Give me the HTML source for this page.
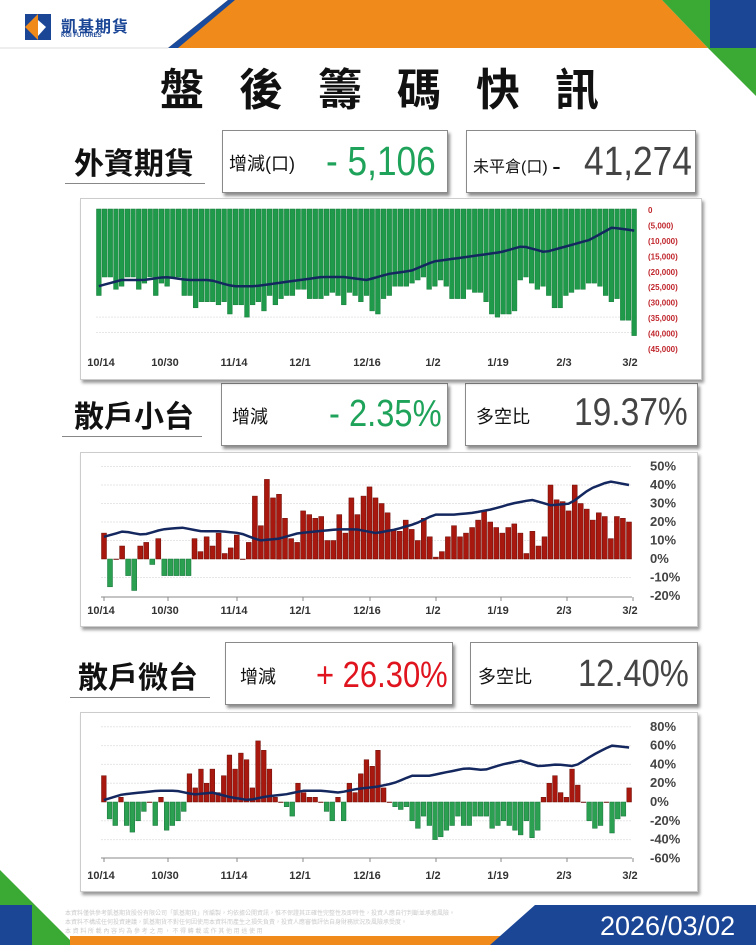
<!DOCTYPE html>
<html><head><meta charset="utf-8">
<style>
body{margin:0;width:756px;height:945px;position:relative;overflow:hidden;background:#fff;font-family:"Liberation Sans","Noto Sans CJK TC",sans-serif}
.a{position:absolute}
.box{position:absolute;background:#fff;border:1px solid #8a8a8a;box-shadow:2px 3px 3px rgba(0,0,0,.45)}
.lbl{position:absolute;font-size:30px;font-weight:bold;color:#111;font-family:"Noto Sans CJK TC",sans-serif}
.ul{position:absolute;height:1px;background:#888}
.bt{position:absolute;font-size:18px;color:#111;font-family:"Liberation Sans","Noto Sans CJK TC",sans-serif}
.bv{position:absolute;font-size:41px;font-family:"Liberation Sans",sans-serif;transform:scaleX(0.86);transform-origin:0 0;white-space:nowrap;line-height:46px}
.panel{position:absolute;background:#fff;border:1px solid #ccc;box-shadow:2px 3px 3px rgba(0,0,0,.4)}
</style></head><body>
<svg class="a" style="left:0;top:0" width="756" height="945">
<polygon points="168,48 228,0 662,0 708,48" fill="#f08a1a"/>
<polygon points="168,48 228,0 235,0 178,48" fill="#1a4b9c"/>
<polygon points="662,0 710,0 710,48 708,48" fill="#3aaa35"/>
<rect x="710" y="0" width="46" height="48" fill="#1b4696"/>
<polygon points="708,48 756,48 756,96" fill="#3aaa35"/>
<line x1="0" y1="48" x2="168" y2="48" stroke="#ddd"/>
<rect x="25" y="14" width="26" height="26" fill="#1b4696"/>
<polygon points="25,27 38,14 38,40" fill="#f08a1a"/>
<polygon points="38,20 46,27 38,36" fill="#fff"/>
<polygon points="0,870 75,945 0,945" fill="#3aaa35"/>
<rect x="0" y="905" width="32" height="40" fill="#1b4696"/>
<rect x="70" y="936" width="430" height="9" fill="#f08a1a"/>
<polygon points="490,945 535,905 756,905 756,945" fill="#1b4696"/>
<text x="600" y="935" fill="#fff" font-size="27" font-family="Liberation Sans">2026/03/02</text>
<g fill="#ccc" font-size="6">
<text x="65" y="915">本資料僅供參考凱基期貨股份有限公司「凱基期貨」所編製，均依據公開資訊，惟不保證其正確性完整性及即時性，投資人應自行判斷並承擔風險。</text>
<text x="65" y="924">本資料不構成任何投資建議，凱基期貨不對任何因使用本資料而產生之損失負責，投資人應審慎評估自身財務狀況及風險承受度。</text>
<text x="65" y="933">本 資 料 所 載 內 容 均 為 參 考 之 用 ， 不 得 轉 載 或 作 其 他 用 途 使 用</text>
</g>
</svg>
<div class="a" style="left:61px;top:13px;font-size:16px;color:#1b4696;font-weight:bold;font-family:'Noto Sans CJK TC',sans-serif;letter-spacing:1px">凱基期貨</div>
<div class="a" style="left:61px;top:33px;font-size:6px;color:#1b4696;font-weight:bold">KGI FUTURES</div>
<div class="a" style="left:160px;top:58px;font-size:44px;font-weight:bold;letter-spacing:35px;color:#111;font-family:'Noto Sans CJK TC',sans-serif;line-height:56px">盤後籌碼快訊</div>

<div class="lbl" style="left:74px;top:139px">外資期貨</div><div class="ul" style="left:65px;top:183px;width:140px"></div>
<div class="box" style="left:222px;top:130px;width:224px;height:61px"></div>
<div class="bt" style="left:229px;top:150px">增減(口)</div>
<div class="bv" style="left:326px;top:138px;color:#1fa35a">- 5,106</div>
<div class="box" style="left:466px;top:130px;width:228px;height:61px"></div>
<div class="bt" style="left:473px;top:151px;font-size:16px">未平倉(口) <span style="font-size:26px;vertical-align:-3px">-</span></div>
<div class="bv" style="left:584px;top:138px;color:#444">41,274</div>

<div class="lbl" style="left:74px;top:392px">散戶小台</div><div class="ul" style="left:62px;top:436px;width:140px"></div>
<div class="box" style="left:221px;top:383px;width:225px;height:61px"></div>
<div class="bt" style="left:232px;top:403px">增減</div>
<div class="bv" style="left:329px;top:391px;color:#1fa35a;font-size:38px">- 2.35%</div>
<div class="box" style="left:465px;top:383px;width:231px;height:61px"></div>
<div class="bt" style="left:476px;top:403px">多空比</div>
<div class="bv" style="left:574px;top:390px;color:#444;font-size:39px">19.37%</div>

<div class="lbl" style="left:78px;top:653px">散戶微台</div><div class="ul" style="left:70px;top:697px;width:140px"></div>
<div class="box" style="left:225px;top:642px;width:226px;height:61px"></div>
<div class="bt" style="left:240px;top:663px">增減</div>
<div class="bv" style="left:316px;top:652px;color:#e0141e;font-size:36px">+ 26.30%</div>
<div class="box" style="left:470px;top:642px;width:226px;height:61px"></div>
<div class="bt" style="left:478px;top:663px">多空比</div>
<div class="bv" style="left:578px;top:651px;color:#444;font-size:38px">12.40%</div>

<div class="panel" style="left:80px;top:198px;width:620px;height:180px"></div>
<div class="panel" style="left:80px;top:452px;width:616px;height:173px"></div>
<div class="panel" style="left:80px;top:712px;width:616px;height:178px"></div>
<svg id="c" class="a" style="left:0;top:0" width="756" height="945"></svg>
<script>
var S='';
var xs=[101,165,234,300,367,433,498,564,630];
var labs=['10/14','10/30','11/14','12/1','12/16','1/2','1/19','2/3','3/2'];
function interp(kp,n){var r=[];for(var i=0;i<n;i++){var t=i/(n-1)*(kp.length-1);var k=Math.floor(t);if(k>=kp.length-1){r.push(kp[kp.length-1]);continue;}var f=t-k;r.push(kp[k]*(1-f)+kp[k+1]*f);}return r;}
function chart(o){
 var n=o.v.length,x0=o.x0,x1=o.x1,w=(x1-x0)/n;
 o.grid.forEach(function(g){S+='<line x1="'+x0+'" x2="'+x1+'" y1="'+o.y(g)+'" y2="'+o.y(g)+'" stroke="#e6e6e6" stroke-dasharray="2,1"/>';});
 var z=o.y(0);
 o.v.forEach(function(v,i){var y=o.y(v);var top=Math.min(y,z),h=Math.abs(y-z);S+='<rect x="'+(x0+i*w+0.5).toFixed(1)+'" y="'+top.toFixed(1)+'" width="'+(w-1).toFixed(1)+'" height="'+Math.max(h,0.5).toFixed(1)+'" fill="'+o.col(v)+'" stroke="'+o.sk(v)+'" stroke-width="0.5"/>';});
 var L=interp(o.line,n),p='';
 L.forEach(function(v,i){p+=(i?'L':'M')+(x0+i*w+w/2).toFixed(1)+','+o.y(v).toFixed(1);});
 S+='<path d="'+p+'" fill="none" stroke="#14285f" stroke-width="2.5"/>';
 o.yl.forEach(function(t){S+='<text x="'+o.lx+'" y="'+(o.y(t[0])+4)+'" font-size="'+o.fs+'" fill="'+o.lc+'" font-weight="bold" font-family="Liberation Sans">'+t[1]+'</text>';});
 if(o.ax){S+='<line x1="'+x0+'" x2="'+x1+'" y1="'+o.ax+'" y2="'+o.ax+'" stroke="#888"/>';xs.forEach(function(x){S+='<line x1="'+(x+3)+'" x2="'+(x+3)+'" y1="'+o.ax+'" y2="'+(o.ax+4)+'" stroke="#888"/>';});}
 xs.forEach(function(x,i){S+='<text x="'+x+'" y="'+o.ty+'" font-size="11" fill="#333" text-anchor="middle" font-weight="bold" font-family="Liberation Sans">'+labs[i]+'</text>';});
}
var v1=[28,22,22,26,25,22,22,26,24,22,28,24,25,22,22,28,28,32,30,30,30,31,30,34,31,31,35,31,30,33,28,31,29,28,28,26,26,29,29,29,28,27,28,31,27,28,30,28,33,34,29,28,25,25,25,24,23,22,26,25,23,25,29,29,29,26,27,27,30,34,35,34,34,33,23,22,24,26,25,28,32,32,28,27,26,26,24,24,25,28,30,29,36,36,41];
chart({v:v1.map(function(a){return -a}),x0:96,x1:637,y:function(v){return 209-v*139/45},
 grid:[-35,-40],col:function(){return '#1f9a4a'},sk:function(){return '#157a38'},
 line:[-25,-23,-23,-22,-23,-23,-25,-25,-24,-23,-22,-22,-23,-21,-20,-17,-16,-15,-14,-12,-14,-12,-10,-6,-7],
 yl:[[0,'0'],[-5,'(5,000)'],[-10,'(10,000)'],[-15,'(15,000)'],[-20,'(20,000)'],[-25,'(25,000)'],[-30,'(30,000)'],[-35,'(35,000)'],[-40,'(40,000)'],[-45,'(45,000)']],
 lx:648,fs:8,lc:'#c0262c',ty:366,ax:0});
var v2=[14,-15,0,7,-9,-17,7,9,-3,11,-9,-9,-9,-9,-9,11,4,12,7,14,3,6,13,0,9,34,18,43,33,35,22,11,9,26,24,22,23,10,10,24,14,33,24,34,39,33,30,25,16,15,21,16,10,22,12,1,4,12,18,12,14,17,21,26,20,17,14,17,19,14,3,15,7,12,40,32,31,26,40,30,27,21,25,23,11,23,22,20];
chart({v:v2,x0:101,x1:632,y:function(v){return 559-v*1.85},grid:[50,40,30,20,10,-10],
 col:function(v){return v>=0?'#a8180f':'#2aa050'},sk:function(v){return v>=0?'#6b0c06':'#17703a'},
 line:[12,15,13,16,17,15,15,14,10,11,14,15,16,16,14,16,19,24,24,25,27,30,32,29,30,38,42,40],
 yl:[[50,'50%'],[40,'40%'],[30,'30%'],[20,'20%'],[10,'10%'],[0,'0%'],[-10,'-10%'],[-20,'-20%']],
 lx:650,fs:13,lc:'#444',ty:614,ax:597});
var v3=[28,-18,-25,5,-25,-32,-20,-10,0,-25,5,-30,-25,-20,-10,30,15,35,20,35,10,28,50,35,52,45,15,65,55,35,5,0,-5,-15,20,10,5,5,0,-10,-20,5,-20,20,10,30,45,38,55,15,0,-5,-8,-5,-20,-28,-15,-25,-40,-37,-30,-25,-15,-25,-25,-15,-15,-15,-28,-25,-20,-25,-30,-35,-20,-38,-30,5,20,28,10,5,35,18,0,-20,-28,-25,0,-33,-18,-15,15];
chart({v:v3,x0:101,x1:632,y:function(v){return 802-v*0.94},grid:[80,60,40,20,-20,-40],
 col:function(v){return v>=0?'#a8180f':'#2aa050'},sk:function(v){return v>=0?'#6b0c06':'#17703a'},
 line:[2,8,10,12,12,8,10,5,2,6,8,12,12,10,14,16,20,28,28,32,36,34,40,44,38,40,38,50,60,58],
 yl:[[80,'80%'],[60,'60%'],[40,'40%'],[20,'20%'],[0,'0%'],[-20,'-20%'],[-40,'-40%'],[-60,'-60%']],
 lx:650,fs:13,lc:'#444',ty:879,ax:858});
document.getElementById('c').innerHTML=S;
</script>
</body></html>
